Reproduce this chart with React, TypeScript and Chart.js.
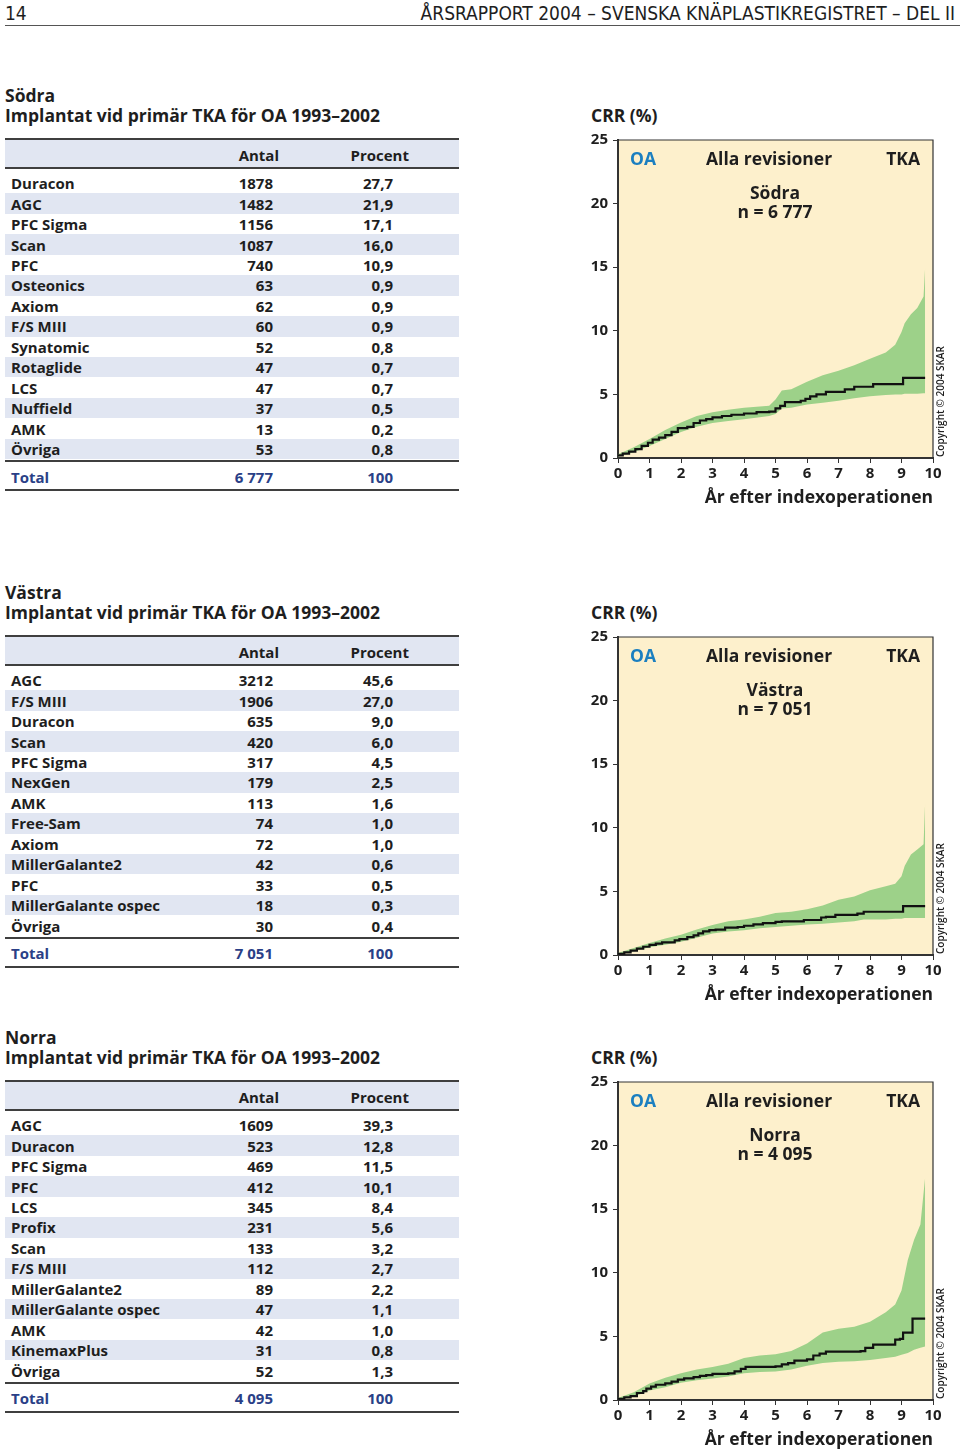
import React, { useEffect, useRef } from "react";
import { Chart, registerables } from "chart.js";

Chart.register(...registerables);

// ---------- Table data ----------
const sodraNames = ["Duracon", "AGC", "PFC Sigma", "Scan", "PFC", "Osteonics", "Axiom", "F/S MIII", "Synatomic", "Rotaglide", "LCS", "Nuffield", "AMK", "Övriga"];
const sodraAntal = ["1878", "1482", "1156", "1087", "740", "63", "62", "60", "52", "47", "47", "37", "13", "53"];
const sodraProcent = ["27,7", "21,9", "17,1", "16,0", "10,9", "0,9", "0,9", "0,9", "0,8", "0,7", "0,7", "0,5", "0,2", "0,8"];

const vastraNames = ["AGC", "F/S MIII", "Duracon", "Scan", "PFC Sigma", "NexGen", "AMK", "Free-Sam", "Axiom", "MillerGalante2", "PFC", "MillerGalante ospec", "Övriga"];
const vastraAntal = ["3212", "1906", "635", "420", "317", "179", "113", "74", "72", "42", "33", "18", "30"];
const vastraProcent = ["45,6", "27,0", "9,0", "6,0", "4,5", "2,5", "1,6", "1,0", "1,0", "0,6", "0,5", "0,3", "0,4"];

const norraNames = ["AGC", "Duracon", "PFC Sigma", "PFC", "LCS", "Profix", "Scan", "F/S MIII", "MillerGalante2", "MillerGalante ospec", "AMK", "KinemaxPlus", "Övriga"];
const norraAntal = ["1609", "523", "469", "412", "345", "231", "133", "112", "89", "47", "42", "31", "52"];
const norraProcent = ["39,3", "12,8", "11,5", "10,1", "8,4", "5,6", "3,2", "2,7", "2,2", "1,1", "1,0", "0,8", "1,3"];

// ---------- Curve data (years, CRR %) ----------
const sodraLineX = [0, 0.15, 0.35, 0.55, 0.75, 0.95, 1.1, 1.3, 1.5, 1.7, 1.9, 2.2, 2.4, 2.6, 2.8, 3.0, 3.3, 3.6, 4.0, 4.4, 4.8, 5.0, 5.15, 5.3, 5.8, 5.95, 6.1, 6.3, 6.6, 7.2, 7.5, 8.1, 9.05, 9.75];
const sodraLineY = [0.2, 0.35, 0.5, 0.7, 0.95, 1.2, 1.45, 1.6, 1.8, 2.05, 2.35, 2.45, 2.75, 2.95, 3.05, 3.2, 3.3, 3.4, 3.5, 3.6, 3.65, 3.9, 4.1, 4.4, 4.5, 4.65, 4.85, 5.0, 5.2, 5.4, 5.6, 5.8, 6.3, 6.3];
const sodraBandX = [0, 0.5, 1, 1.5, 2, 2.5, 3, 3.5, 4, 4.5, 4.8, 5.0, 5.2, 5.5, 6, 6.5, 7, 7.5, 8, 8.5, 8.8, 9.0, 9.1, 9.3, 9.5, 9.7, 9.75];
const sodraLow = [0.1, 0.45, 0.95, 1.5, 2.05, 2.45, 2.75, 2.9, 3.05, 3.2, 3.3, 3.45, 3.9, 3.95, 4.2, 4.35, 4.5, 4.7, 4.85, 4.95, 5.0, 5.0, 5.05, 5.05, 5.05, 5.1, 5.1];
const sodraHigh = [0.3, 0.85, 1.5, 2.2, 2.8, 3.3, 3.6, 3.8, 3.95, 4.05, 4.1, 4.6, 5.3, 5.4, 6.0, 6.5, 6.85, 7.3, 7.8, 8.3, 8.9, 9.9, 10.6, 11.3, 11.8, 12.7, 15.0];

const vastraLineX = [0, 0.2, 0.4, 0.6, 0.8, 1.0, 1.2, 1.4, 1.8, 1.95, 2.2, 2.4, 2.55, 2.7, 2.9, 3.1, 3.4, 3.8, 4.0, 4.3, 4.6, 5.0, 5.2, 5.9, 6.45, 6.6, 6.9, 7.6, 7.8, 9.05, 9.75];
const vastraLineY = [0.1, 0.2, 0.35, 0.5, 0.65, 0.8, 0.9, 1.0, 1.15, 1.25, 1.4, 1.55, 1.7, 1.85, 1.95, 2.0, 2.15, 2.2, 2.3, 2.4, 2.5, 2.6, 2.65, 2.75, 2.95, 3.0, 3.15, 3.25, 3.4, 3.85, 3.85];
const vastraBandX = [0, 0.5, 1, 1.5, 2, 2.5, 3, 3.5, 4, 4.5, 5, 5.5, 6, 6.5, 7, 7.5, 7.8, 8, 8.5, 8.8, 9.0, 9.1, 9.3, 9.5, 9.7, 9.75];
const vastraLow = [0.05, 0.3, 0.6, 0.8, 1.05, 1.35, 1.7, 1.85, 1.95, 2.1, 2.2, 2.3, 2.4, 2.45, 2.55, 2.65, 2.8, 2.8, 2.8, 2.85, 2.85, 2.9, 2.9, 2.9, 2.9, 2.9];
const vastraHigh = [0.15, 0.55, 0.95, 1.3, 1.6, 2.0, 2.35, 2.65, 2.8, 3.0, 3.3, 3.4, 3.6, 3.9, 4.35, 4.6, 4.9, 5.1, 5.4, 5.6, 6.2, 7.0, 7.9, 8.3, 8.7, 12.0];

const norraLineX = [0, 0.2, 0.4, 0.6, 0.8, 0.9, 1.05, 1.2, 1.5, 1.7, 1.9, 2.1, 2.4, 2.6, 2.8, 3.0, 3.5, 3.7, 3.9, 4.05, 5.0, 5.2, 5.4, 5.6, 6.0, 6.2, 6.4, 6.6, 7.7, 7.85, 8.1, 8.8, 8.95, 9.05, 9.35, 9.75];
const norraLineY = [0.1, 0.2, 0.3, 0.55, 0.7, 0.9, 1.05, 1.2, 1.3, 1.45, 1.6, 1.7, 1.8, 1.9, 1.95, 2.05, 2.1, 2.25, 2.45, 2.6, 2.65, 2.8, 2.9, 3.1, 3.2, 3.5, 3.65, 3.8, 3.85, 4.1, 4.35, 4.75, 4.8, 5.3, 6.4, 6.4];
const norraBandX = [0, 0.5, 1, 1.5, 2, 2.5, 3, 3.5, 4, 4.5, 5, 5.5, 6, 6.5, 7, 7.5, 8, 8.5, 8.8, 9.0, 9.2, 9.4, 9.6, 9.75];
const norraLow = [0.05, 0.25, 0.75, 1.0, 1.35, 1.55, 1.7, 1.85, 2.1, 2.2, 2.25, 2.4, 2.7, 2.9, 3.0, 3.05, 3.15, 3.3, 3.4, 3.55, 3.7, 3.95, 4.1, 4.2];
const norraHigh = [0.15, 0.6, 1.3, 1.75, 2.1, 2.4, 2.6, 2.85, 3.3, 3.5, 3.6, 3.85, 4.45, 5.3, 5.6, 5.75, 6.15, 6.9, 7.5, 8.6, 11.0, 12.6, 13.8, 17.5];

const xTicks = [0, 1, 2, 3, 4, 5, 6, 7, 8, 9, 10];
const yTicks = [0, 5, 10, 15, 20, 25];

const sections = [
  { R: 139, region: "Södra", n: "6 777", names: sodraNames, antal: sodraAntal, procent: sodraProcent, lineX: sodraLineX, lineY: sodraLineY, bandX: sodraBandX, low: sodraLow, high: sodraHigh },
  { R: 636, region: "Västra", n: "7 051", names: vastraNames, antal: vastraAntal, procent: vastraProcent, lineX: vastraLineX, lineY: vastraLineY, bandX: vastraBandX, low: vastraLow, high: vastraHigh },
  { R: 1081, region: "Norra", n: "4 095", names: norraNames, antal: norraAntal, procent: norraProcent, lineX: norraLineX, lineY: norraLineY, bandX: norraBandX, low: norraLow, high: norraHigh },
];

const FONT = "'Open Sans', 'Noto Sans', sans-serif";
const NARROW = "'Liberation Sans Narrow', 'DejaVu Sans Condensed', sans-serif";
const WEIGHT = 700;
const INK = "#1e1e1e";
const STRIPE = "#e1e6f2";
const RULE = "#3f3f3f";
const NAVY = "#2a3f87";
const CREAM = "#fdf0cc";
const GREEN = "#9dd189";

const pts = (xs: number[], ys: number[]) => xs.map((x, i) => ({ x, y: ys[i] }));

const bgPlugin = {
  id: "crrBackground",
  beforeDraw(chart: any) {
    const { ctx, chartArea: a } = chart;
    ctx.save();
    ctx.fillStyle = CREAM;
    ctx.fillRect(a.left, a.top, a.right - a.left, a.bottom - a.top);
    ctx.restore();
  },
  afterDraw(chart: any) {
    const { ctx, chartArea: a } = chart;
    ctx.save();
    ctx.strokeStyle = "#333";
    ctx.lineWidth = 1.2;
    ctx.beginPath();
    ctx.moveTo(a.left, a.top);
    ctx.lineTo(a.right, a.top);
    ctx.lineTo(a.right, a.bottom);
    ctx.stroke();
    ctx.restore();
  },
};

function CrrChart({ s }: { s: any }) {
  const ref = useRef<HTMLCanvasElement | null>(null);
  useEffect(() => {
    if (!ref.current) return;
    const chart = new Chart(ref.current, {
      type: "line",
      data: {
        datasets: [
          { label: "CRR", data: pts(s.lineX, s.lineY), borderColor: "#111", borderWidth: 2.2, stepped: true, pointRadius: 0, fill: false },
          { label: "Övre", data: pts(s.bandX, s.high), borderColor: "transparent", borderWidth: 0, pointRadius: 0, backgroundColor: GREEN, fill: "+1" },
          { label: "Nedre", data: pts(s.bandX, s.low), borderColor: "transparent", borderWidth: 0, pointRadius: 0, fill: false },
        ],
      },
      options: {
        animation: false,
        responsive: false,
        layout: { padding: { left: 0, top: 40, right: 27, bottom: 7 } },
        plugins: { legend: { display: false }, tooltip: { enabled: false } },
        scales: {
          x: {
            type: "linear",
            min: 0,
            max: 10,
            afterBuildTicks: (sc: any) => { sc.ticks = xTicks.map((v) => ({ value: v })); },
            ticks: { color: INK, font: { family: FONT, size: 15, weight: String(WEIGHT) }, padding: 2, maxRotation: 0 },
            grid: { drawOnChartArea: false, tickLength: 5, color: "#333" },
            border: { color: "#333", width: 2 },
            title: { display: true, text: "År efter indexoperationen", align: "end", color: INK, font: { family: FONT, size: 17.5, weight: String(WEIGHT) }, padding: { top: 0, bottom: 4 } },
            afterFit: (sc: any) => { sc.height = 55; },
          },
          y: {
            min: 0,
            max: 25,
            afterBuildTicks: (sc: any) => { sc.ticks = yTicks.map((v) => ({ value: v })); },
            ticks: { color: INK, font: { family: FONT, size: 15, weight: String(WEIGHT) }, padding: 5 },
            grid: { drawOnChartArea: false, tickLength: 5, color: "#333" },
            border: { color: "#333", width: 2 },
            afterFit: (sc: any) => { sc.width = 33; },
          },
        },
      } as any,
      plugins: [bgPlugin],
    });
    return () => chart.destroy();
  }, [s]);
  return (
    <canvas
      ref={ref}
      width={375}
      height={420}
      style={{ position: "absolute", left: 585, top: s.R - 39, width: 375, height: 420 }}
    />
  );
}

function T({ x, y, children, size = 15, weight = WEIGHT, color = INK, align = "left", family = FONT }: any) {
  const lh = Math.round(size * 1.3);
  const style: any = {
    position: "absolute",
    top: y - lh / 2,
    lineHeight: lh + "px",
    fontSize: size,
    fontWeight: weight,
    color,
    fontFamily: family,
    whiteSpace: "nowrap",
  };
  if (align === "left") style.left = x;
  else if (align === "right") style.right = 960 - x;
  else { style.left = x - 200; style.width = 400; style.textAlign = "center"; }
  return <div style={style}>{children}</div>;
}

function Box({ x, y, w, h, bg }: any) {
  return <div style={{ position: "absolute", left: x, top: y, width: w, height: h, background: bg }} />;
}

function Section({ s }: { s: any }) {
  const R = s.R;
  const rowH = 20.45;
  const firstTop = R + 34;
  const lastBottom = firstTop + rowH * s.names.length;
  const els: any[] = [];
  // headings
  els.push(<T key="reg" x={5} y={R - 44} size={17.5}>{s.region}</T>);
  els.push(<T key="sub" x={5} y={R - 24} size={17.5}>Implantat vid primär TKA för OA 1993–2002</T>);
  // table
  els.push(<Box key="hb" x={5} y={R + 1} w={454} h={27} bg={STRIPE} />);
  els.push(<Box key="r1" x={5} y={R - 1} w={454} h={2} bg={RULE} />);
  els.push(<Box key="r2" x={5} y={R + 28} w={454} h={2} bg={RULE} />);
  els.push(<T key="ha" x={279} y={R + 16} align="right">Antal</T>);
  els.push(<T key="hp" x={409} y={R + 16} align="right">Procent</T>);
  s.names.forEach((nm: string, i: number) => {
    const top = firstTop + rowH * i;
    const cy = top + rowH / 2;
    if (i % 2 === 1) els.push(<Box key={"st" + i} x={5} y={top} w={454} h={rowH} bg={STRIPE} />);
    els.push(<T key={"n" + i} x={11} y={cy}>{nm}</T>);
    els.push(<T key={"a" + i} x={273} y={cy} align="right">{s.antal[i]}</T>);
    els.push(<T key={"p" + i} x={393} y={cy} align="right">{s.procent[i]}</T>);
  });
  els.push(<Box key="r3" x={5} y={lastBottom + 1} w={454} h={2} bg={RULE} />);
  els.push(<T key="tn" x={11} y={lastBottom + 17.5} color={NAVY}>Total</T>);
  els.push(<T key="ta" x={273} y={lastBottom + 17.5} align="right" color={NAVY}>{s.n}</T>);
  els.push(<T key="tp" x={393} y={lastBottom + 17.5} align="right" color={NAVY}>100</T>);
  els.push(<Box key="r4" x={5} y={lastBottom + 30} w={454} h={2} bg={RULE} />);
  // chart
  els.push(<T key="crr" x={591} y={R - 24} size={17.5}>CRR (%)</T>);
  els.push(<CrrChart key="chart" s={s} />);
  els.push(<T key="oa" x={630} y={R + 19} size={17.5} color="#1b7fc0">OA</T>);
  els.push(<T key="alla" x={706} y={R + 19} size={17.5}>Alla revisioner</T>);
  els.push(<T key="tka" x={920} y={R + 19} size={17.5} align="right">TKA</T>);
  els.push(<T key="rg" x={775} y={R + 53} size={17.5} align="center">{s.region}</T>);
  els.push(<T key="nn" x={775} y={R + 72} size={17.5} align="center">{"n = " + s.n}</T>);
  els.push(
    <div
      key="copy"
      style={{
        position: "absolute",
        left: 934,
        top: R + 318,
        transform: "rotate(-90deg)",
        transformOrigin: "0 0",
        fontFamily: FONT,
        fontSize: 10,
        fontWeight: 600,
        lineHeight: "12px",
        color: INK,
        whiteSpace: "nowrap",
      }}
    >
      Copyright © 2004 SKAR
    </div>
  );
  return <>{els}</>;
}

export default function App() {
  return (
    <div style={{ position: "absolute", left: 0, top: 0, width: 960, height: 1450, background: "#fff", overflow: "hidden" }}>
      <T x={5} y={13} size={19} weight={400} family={NARROW}>14</T>
      <T x={955} y={13} size={19} weight={400} align="right" family={NARROW}>
        ÅRSRAPPORT 2004 – SVENSKA KNÄPLASTIKREGISTRET – DEL II
      </T>
      <Box x={5} y={25} w={955} h={1} bg="#555" />
      {sections.map((s) => (
        <Section key={s.region} s={s} />
      ))}
    </div>
  );
}
